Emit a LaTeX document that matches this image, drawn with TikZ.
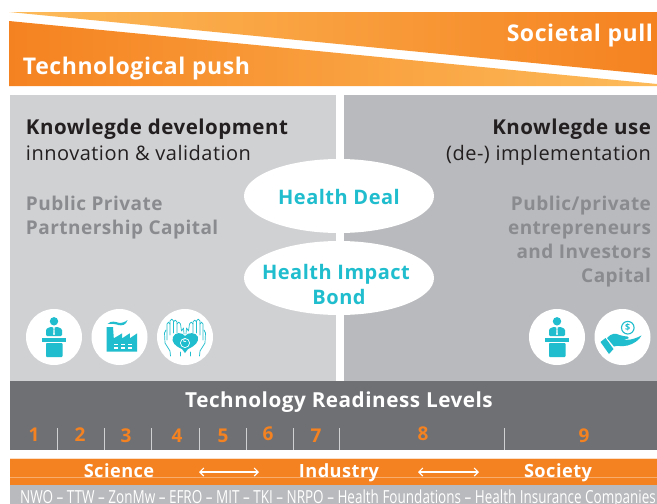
\documentclass[tikz,border=0pt]{standalone}
\usepackage{fontspec}
\usepackage{graphicx}
\usetikzlibrary{shapes.geometric,arrows.meta}
\setmainfont{Open Sans}[LetterSpace=2.5]
\newfontfamily\plainfont{Open Sans}
\definecolor{orng}{HTML}{F58220}
\definecolor{lorng}{HTML}{FDBB5A}
\definecolor{teal2}{HTML}{1FBDCD}
\definecolor{panelL}{HTML}{D0D1D3}
\definecolor{panelR}{HTML}{B9BABD}
\definecolor{band}{HTML}{6F7074}
\definecolor{greytxt}{HTML}{8A8B8E}
\definecolor{inktxt}{HTML}{231F20}
\newcommand{\handside}{%
    \draw[icl] (-14.5,19) -- (-15,14) -- (-20,6) -- (-20.5,-4) -- (-19,-7);
    \draw[icl] (-5,19) -- (-5,15);
    \draw[icl] (-18,3) -- (-18,-13) .. controls (-18,-15.5) and (-15,-15.5) .. (-15,-13) -- (-15,-2);
    \draw[icl] (-15,-13) -- (-15,-16) .. controls (-15,-18.5) and (-11.5,-18.5) .. (-11.5,-16) -- (-11.5,-4);
    \draw[icl] (-11.5,-15) .. controls (-11.5,-17.5) and (-8,-17.5) .. (-8,-15) -- (-8,-4);
    \draw[icl] (-8,-13) .. controls (-8,-15.5) and (-4.5,-15.5) .. (-4.5,-13) -- (-3.5,-6) -- (-1.5,-9) -- (-1,-3);
}
\tikzset{
  lab/.style={inner sep=0pt,outer sep=0pt,font=\fontsize{20}{24}\selectfont},
  labb/.style={lab,font=\fontsize{20}{24}\selectfont\bfseries},
  labc/.style={lab,font=\fontsize{19}{24}\selectfont\bfseries},
  headL/.style={lab,font=\fontsize{20.5}{24}\selectfont\bfseries,text=inktxt,anchor=base west},
  headR/.style={lab,font=\fontsize{20.5}{24}\selectfont\bfseries,text=inktxt,anchor=base east},
  subL/.style={lab,text=inktxt,anchor=base west},
  subR/.style={lab,text=inktxt,anchor=base east},
  capL/.style={labc,text=greytxt,anchor=base west},
  capR/.style={labc,text=greytxt,anchor=base east},
  bubble/.style={ellipse,fill=white,minimum width=190pt,minimum height=74pt,inner sep=0pt},
  bubbletext/.style={labb,text=teal2,align=center},
  trl/.style={labc,text=orng,anchor=center},
  tick/.style={panelL,line width=.8pt},
  whitehead/.style={lab,font=\fontsize{20.7}{24}\selectfont\bfseries,text=white,anchor=center},
  banner/.style={lab,font=\fontsize{23}{26}\selectfont\bfseries,text=white},
  strip/.style={lab,font=\fontsize{18.2}{22}\selectfont\bfseries,text=white,anchor=base},
  iconc/.style={circle,fill=white,minimum size=56pt,inner sep=0pt},
  ic/.style={fill=teal2,draw=none},
  icl/.style={draw=teal2,line width=.7pt,fill=none,line join=round,line cap=round},
  dbl/.style={{Straight Barb[length=4pt,width=8pt]}-{Straight Barb[length=4pt,width=8pt]},white,line width=1.1pt},
  podium/.pic={
    \fill[ic] (0,-15.7) circle (4.2);
    \fill[ic,rounded corners=1.2pt] (-8,-1) -- (-8,-8) -- (-4,-10) -- (4,-10) -- (8,-8) -- (8,-1) -- cycle;
    \fill[white] (-1.4,-10) -- (1.4,-10) -- (0.7,-8) -- (1,-3) -- (0,-2) -- (-1,-3) -- (-.7,-8) -- cycle;
    \fill[ic] (-.5,-9.5) -- (.5,-9.5) -- (.4,-4) -- (0,-3.3) -- (-.4,-4) -- cycle;
    \fill[ic] (-11.7,1) rectangle (12,4.7);
    \fill[ic,rounded corners=.8pt] (-8,6) rectangle (8.5,20);
  },
  factory/.pic={
    \fill[ic] (-13,14.7) -- (-13,-10) -- (-6.5,-10) -- (-5.7,1.3) -- (2.7,-3.7) -- (2.7,1.3) -- (10.3,-3.7) -- (10.3,1.3) -- (17.7,-3.7) -- (17.7,14.7) -- cycle;
    \fill[ic] (-12,-13) .. controls (-8,-17) and (-4,-15) .. (0,-14) .. controls (2,-14) and (6,-15) .. (8,-17) .. controls (7,-12) and (2,-11) .. (-1,-12) .. controls (-4,-13) and (-8,-13.5) .. (-12,-13) -- cycle;
    \foreach \yy in {7.3,11} \foreach \xx in {-3.5,3.5,10.3}
      \fill[white] (\xx-2,\yy-.55) rectangle (\xx+2,\yy+.55);
  },
  hearthands/.pic={
    \fill[ic] (0,16) -- (-3,12) .. controls (-10,9) and (-14,5) .. (-12,0) .. controls (-10,-5) and (-3,-5) .. (0,-1) .. controls (3,-5) and (11,-5) .. (13,0) .. controls (14,5) and (10,9) .. (3,12) -- cycle;
    \draw[white,line width=.7pt] (0,6) circle (4.6);
    \draw[white,line width=.6pt] (1.2,4.6) arc (50:310:1.8);
    \handside
    \begin{scope}[cm={-1,0,0,1,(0,0)}]
      \handside
    \end{scope}
  },
  coinhand/.pic={
    \draw[teal2,line width=1.1pt] (5.3,-9.3) circle (6.3);
    \node[inner sep=0pt,text=teal2,font=\plainfont\bfseries\fontsize{9}{9}\selectfont] (coinmark) at (5.3,-9.3) {\$};
    \fill[ic] (-22,5) -- (-17,1) -- (-9,12) -- (-13.5,17) -- cycle;
    \fill[ic] (-15.5,1) .. controls (-11,-4) and (-7,-4) .. (-3,-2) .. controls (0,-.5) and (3,-1) .. (5,-.5) .. controls (7,0) and (7,2) .. (3,2) -- (-1,2) -- (4,2.8) .. controls (9,3) and (14,1) .. (19,-1.5) .. controls (17,3) and (11,7) .. (5,8.5) .. controls (-1,10) and (-5,8) .. (-8.5,9.5) -- cycle;
  },
}
\begin{document}
\begin{tikzpicture}[x=1pt,y=-1pt]
\useasboundingbox (0,0) rectangle (657,504);
% banner
\path[left color=lorng,right color=orng] (9,12) -- (657,12) -- (657,75) -- cycle;
\path[left color=orng,right color=lorng] (9,21) -- (657,84) -- (657,86) -- (9,86) -- cycle;
\node[banner,anchor=base east] (pull) at (653,41) {Societal pull};
\node[banner,anchor=base west] (push) at (23,74) {Technological push};
% panels
\fill[panelL] (10,95) rectangle (336,381);
\fill[panelR] (344,95) rectangle (657,381);
\node[headL] (kd) at (26,134) {Knowlegde development};
\node[subL] (iv) at (26,160) {innovation \& validation};
\node[capL] (ppp1) at (26,210) {Public Private};
\node[capL] (ppp2) at (26,234) {Partnership Capital};
\node[headR] (ku) at (651,134) {Knowlegde use};
\node[subR] (di) at (651,160) {(de-) implementation};
\node[capR] (pe1) at (651,210) {Public/private};
\node[capR] (pe2) at (651,234) {entrepreneurs};
\node[capR] (pe3) at (651,258) {and Investors};
\node[capR] (pe4) at (651,282) {Capital};
% bubbles
\node[bubble] (deal) at (339,196) {};
\node[bubble] (impact) at (339,278) {};
\node[bubbletext,anchor=base] (dealt) at (339,204) {Health Deal};
\node[bubbletext,anchor=base] (impactt) at (336,279) {Health Impact};
\node[bubbletext,anchor=base] (bondt) at (339,304) {Bond};
% icons
\node[iconc] (c1) at (54,337) {};
\node[iconc] (c2) at (119.5,337) {};
\node[iconc] (c3) at (185,337) {};
\node[iconc] (c4) at (557,337) {};
\node[iconc] (c5) at (622.5,337) {};
\pic at (c1) {podium};
\pic at (c2) {factory};
\pic at (c3) {hearthands};
\pic at (c4) {podium};
\pic at (c5) {coinhand};
% TRL band
\fill[band] (10,381) rectangle (657,450);
\node[whitehead] (trlh) at (339,402) {Technology Readiness Levels};
\foreach \nm/\xx/\yy in {1/34/435,2/80/435,3/126/436,4/177/436,5/223/436,6/268/434,7/316/436,8/423/434,9/584/436}
  \node[trl] (n\nm) at (\xx,\yy) {\nm};
\foreach \xx in {57,104,151,199,246,293,339,504}
  \draw[tick] (\xx,428) -- (\xx,450);
% bottom strip
\fill[orng!25] (10,458) rectangle (657,459);
\fill[orng] (10,459) rectangle (657,485);
\draw[white,opacity=.35,line width=.5pt] (10,477.5) -- (657,477.5);
\node[strip] (science) at (119,477.5) {Science};
\node[strip] (industry) at (339,477.5) {Industry};
\node[strip] (society) at (558,477.5) {Society};
\coordinate (a1) at (199,472);
\coordinate (a2) at (259,472);
\coordinate (b1) at (418,472);
\coordinate (b2) at (479,472);
\draw[dbl] (a1) -- (a2);
\draw[dbl] (b1) -- (b2);
\fill[panelR] (10,485) rectangle (657,504);
\begin{scope}
\clip (0,485) rectangle (657,504);
\node[inner sep=0pt,text=white,anchor=base] (funders) at (338,503) {\scalebox{.75}[1]{\plainfont\fontsize{18}{20}\selectfont NWO – TTW – ZonMw – EFRO – MIT – TKI – NRPO – Health Foundations – Health Insurance Companies}};
\end{scope}
\end{tikzpicture}
\end{document}
